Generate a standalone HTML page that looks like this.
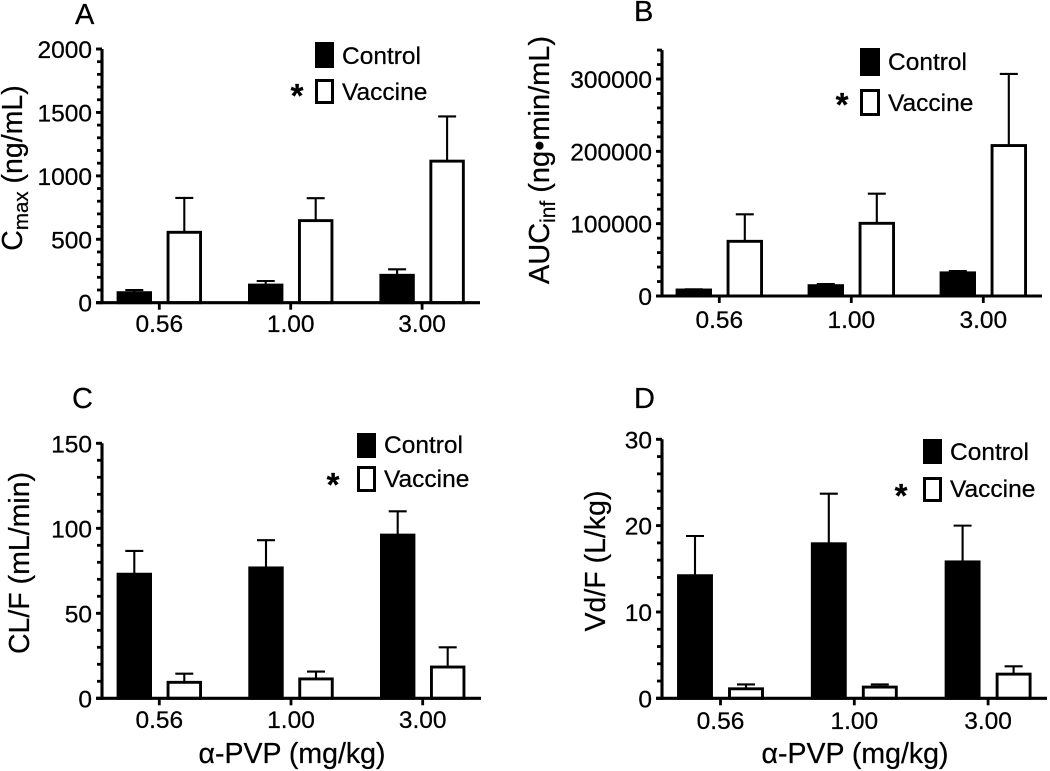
<!DOCTYPE html>
<html lang="en">
<head>
<meta charset="utf-8">
<title>Vaccine pharmacokinetics panels</title>
<style>
html,body{margin:0;padding:0;background:#fff;}
svg{display:block;filter:blur(0.35px);}
text{font-family:"Liberation Sans",Arial,sans-serif;fill:#000;stroke:#000;stroke-width:0.25px;}
</style>
</head>
<body>
<svg id="figure" xmlns="http://www.w3.org/2000/svg" width="1050" height="771" viewBox="0 0 1050 771"></svg>
<script>
var categories = ["0.56", "1.00", "3.00"];

var cmaxControl = [79, 139, 216];
var cmaxControlErr = [100, 171, 263];
var cmaxVaccine = [555, 647, 1116];
var cmaxVaccineErr = [826, 824, 1468];
var cmaxTicks = [0, 500, 1000, 1500, 2000];

var aucControl = [8300, 14300, 32000];
var aucControlErr = [9200, 16600, 34500];
var aucVaccine = [75600, 100500, 208000];
var aucVaccineErr = [113000, 141500, 307000];
var aucTicks = [0, 100000, 200000, 300000];

var clControl = [73, 76.7, 96];
var clControlErr = [86.7, 93, 110];
var clVaccine = [9.4, 11.4, 18.4];
var clVaccineErr = [14.5, 15.7, 30];
var clTicks = [0, 50, 100, 150];

var vdControl = [14.2, 17.9, 15.8];
var vdControlErr = [18.8, 23.7, 20];
var vdVaccine = [1.1, 1.3, 2.8];
var vdVaccineErr = [1.6, 1.6, 3.7];
var vdTicks = [0, 10, 20, 30];

var svg = document.getElementById('figure');
var NS = 'http://www.w3.org/2000/svg';

function node(tag, parent, props) {
  var el = document.createElementNS(NS, tag);
  for (var k in props) el.setAttribute(k, props[k]);
  parent.appendChild(el);
  return el;
}

function drawPanel(p) {
  var g = node('g', svg, {});
  
  

  function y(v) { return p.y0 - (v / p.yMax) * (p.y0 - p.yTop); }
  function x(i) { return p.x1 + p.step * i; }

  var letter = node('text', g, {x: p.letterX, y: p.letterY, 'font-size': 29});
  
  
  letter.textContent = p.letter;

  // y title
  var title = node('text', g, {
    transform: 'translate(' + p.titleX + ',' + p.titleY + ') rotate(-90)',
    'text-anchor': 'middle', 'font-size': p.titleSize
  });
  
  
  var a = node('tspan', title, {});
  a.textContent = p.title[0];
  if (p.title[1]) {
    var s = node('tspan', title, {dy: 6, 'font-size': p.titleSize * 0.72});
    s.textContent = p.title[1];
    var r = node('tspan', title, {dy: -6});
    r.textContent = p.title[2];
  }

  // error bars then bars
  categories.forEach(function (c, i) {
    [[p.control, p.controlErr, -p.offset, 'control', '#000'],
     [p.vaccine, p.vaccineErr, p.offset, 'vaccine', '#fff']].forEach(function (s) {
      var cx = x(i) + s[2];
      var eb = node('path', g, {
        d: 'M' + cx + ' ' + y(s[0][i]) + 'V' + y(s[1][i]) + 'M' + (cx - 9) + ' ' + y(s[1][i]) + 'H' + (cx + 9),
        stroke: '#000', 'stroke-width': 2.1, fill: 'none'
      });
      
      
      var bar = node('rect', g, {
        x: cx - p.barW / 2, y: y(s[0][i]), width: p.barW, height: p.y0 - y(s[0][i]),
        fill: s[4], stroke: '#000', 'stroke-width': 2.9
      });
      
      
    });
  });

  // y axis
  var yAxis = node('line', g, {x1: p.x0, x2: p.x0, y1: p.y0 + 1.4, y2: y(p.axisMax), stroke: '#000', 'stroke-width': 3.1});
  
  

  // x axis
  var xAxis = node('line', g, {x1: p.x0 - 6, x2: p.xEnd, y1: p.y0, y2: p.y0, stroke: '#000', 'stroke-width': 3.1});
  
  

  // minor ticks
  for (var m = 0; m <= p.axisMax + 1e-6; m += p.minor) {
    var tk = node('line', g, {x1: p.x0 - 5, x2: p.x0, y1: y(m), y2: y(m), stroke: '#000', 'stroke-width': 2.8});
    
    
  }

  // major ticks
  p.ticks.forEach(function (t) {
    var tk = node('line', g, {x1: p.x0 - 6, x2: p.x0, y1: y(t), y2: y(t), stroke: '#000', 'stroke-width': 2.8});
    
    
    var lb = node('text', g, {x: p.x0 - 10, y: y(t) + 9, 'text-anchor': 'end', 'font-size': 24.5});
    
    
    lb.textContent = String(t);
  });

  // x ticks
  categories.forEach(function (c, i) {
    var tk = node('line', g, {x1: x(i), x2: x(i), y1: p.y0, y2: p.y0 + 7, stroke: '#000', 'stroke-width': 2.8});
    
    
    var lb = node('text', g, {x: x(i), y: p.xLabelY, 'text-anchor': 'middle', 'font-size': 24.5});
    
    
    lb.textContent = c;
  });

  if (p.xTitleX) {
    var xt = node('text', g, {x: p.xTitleX, y: 763, 'text-anchor': 'middle', 'font-size': 28.5});
    
    
    xt.textContent = '\u03B1-PVP (mg/kg)';
  }

  // legend
  var L = p.legend;
  var lg = node('g', g, {});
  
  
  var sw1 = node('rect', lg, {x: L.x, y: L.y1, width: L.w, height: L.h1, fill: '#000'});
  
  
  var sw2 = node('rect', lg, {x: L.x + 1.5, y: L.y2 + 1.5, width: L.w - 3, height: L.h2 - 3, fill: '#fff', stroke: '#000', 'stroke-width': 3});
  
  
  var t1 = node('text', lg, {x: L.tx, y: L.b1, 'font-size': 24.5});
  
  
  t1.textContent = 'Control';
  var t2 = node('text', lg, {x: L.tx, y: L.b2, 'font-size': 24.5});
  
  
  t2.textContent = 'Vaccine';
  var st = node('text', lg, {x: L.sx, y: L.sy + 17, 'text-anchor': 'middle', 'font-size': 33, 'font-weight': 'bold'});
  
  
  st.textContent = '*';
}

drawPanel({
  key: 'a', letter: 'A', letterX: 75, letterY: 24,
  x0: 102, xEnd: 480, y0: 302.7, yTop: 49, yMax: 2000, axisMax: 2000, minor: 100, ticks: cmaxTicks,
  x1: 159.3, step: 131.4, offset: 25, barW: 32.5, xLabelY: 332,
  control: cmaxControl, controlErr: cmaxControlErr, vaccine: cmaxVaccine, vaccineErr: cmaxVaccineErr,
  title: ['C', 'max', ' (ng/mL)'], titleX: 22, titleY: 168, titleSize: 28.5,
  legend: {x: 315, y1: 42, w: 19, h1: 26, y2: 79, h2: 25, tx: 342, b1: 64, b2: 100, sx: 297, sy: 90}
});
drawPanel({
  key: 'b', letter: 'B', letterX: 634, letterY: 21,
  x0: 662, xEnd: 1042, y0: 296, yTop: 79, yMax: 300000, axisMax: 340000, minor: 20000, ticks: aucTicks,
  x1: 719.3, step: 132, offset: 25.5, barW: 33.5, xLabelY: 328,
  control: aucControl, controlErr: aucControlErr, vaccine: aucVaccine, vaccineErr: aucVaccineErr,
  title: ['AUC', 'inf', ' (ng\u2022min/mL)'], titleX: 549, titleY: 160, titleSize: 29,
  legend: {x: 860, y1: 48, w: 20, h1: 28, y2: 89, h2: 27, tx: 888, b1: 70, b2: 111, sx: 842, sy: 99}
});
drawPanel({
  key: 'c', letter: 'C', letterX: 72, letterY: 408,
  x0: 102, xEnd: 481, y0: 698.3, yTop: 443.3, yMax: 150, axisMax: 150, minor: 10, ticks: clTicks,
  x1: 159.3, step: 131.7, offset: 25, barW: 32.5, xLabelY: 728,
  control: clControl, controlErr: clControlErr, vaccine: clVaccine, vaccineErr: clVaccineErr,
  title: ['CL/F (mL/min)'], titleX: 29, titleY: 563, titleSize: 28.5, xTitleX: 292,
  legend: {x: 357, y1: 433, w: 19, h1: 25, y2: 466, h2: 26, tx: 384, b1: 453, b2: 487, sx: 333, sy: 479}
});
drawPanel({
  key: 'd', letter: 'D', letterX: 634, letterY: 408,
  x0: 662, xEnd: 1047, y0: 698.3, yTop: 439.3, yMax: 30, axisMax: 30, minor: 2, ticks: vdTicks,
  x1: 720.5, step: 133.8, offset: 25.5, barW: 33, xLabelY: 729,
  control: vdControl, controlErr: vdControlErr, vaccine: vdVaccine, vaccineErr: vdVaccineErr,
  title: ['Vd/F (L/kg)'], titleX: 605, titleY: 561, titleSize: 28.5, xTitleX: 855,
  legend: {x: 923, y1: 439, w: 19, h1: 25, y2: 477, h2: 25, tx: 950, b1: 460, b2: 497, sx: 901, sy: 490}
});
</script>
</body>
</html>
